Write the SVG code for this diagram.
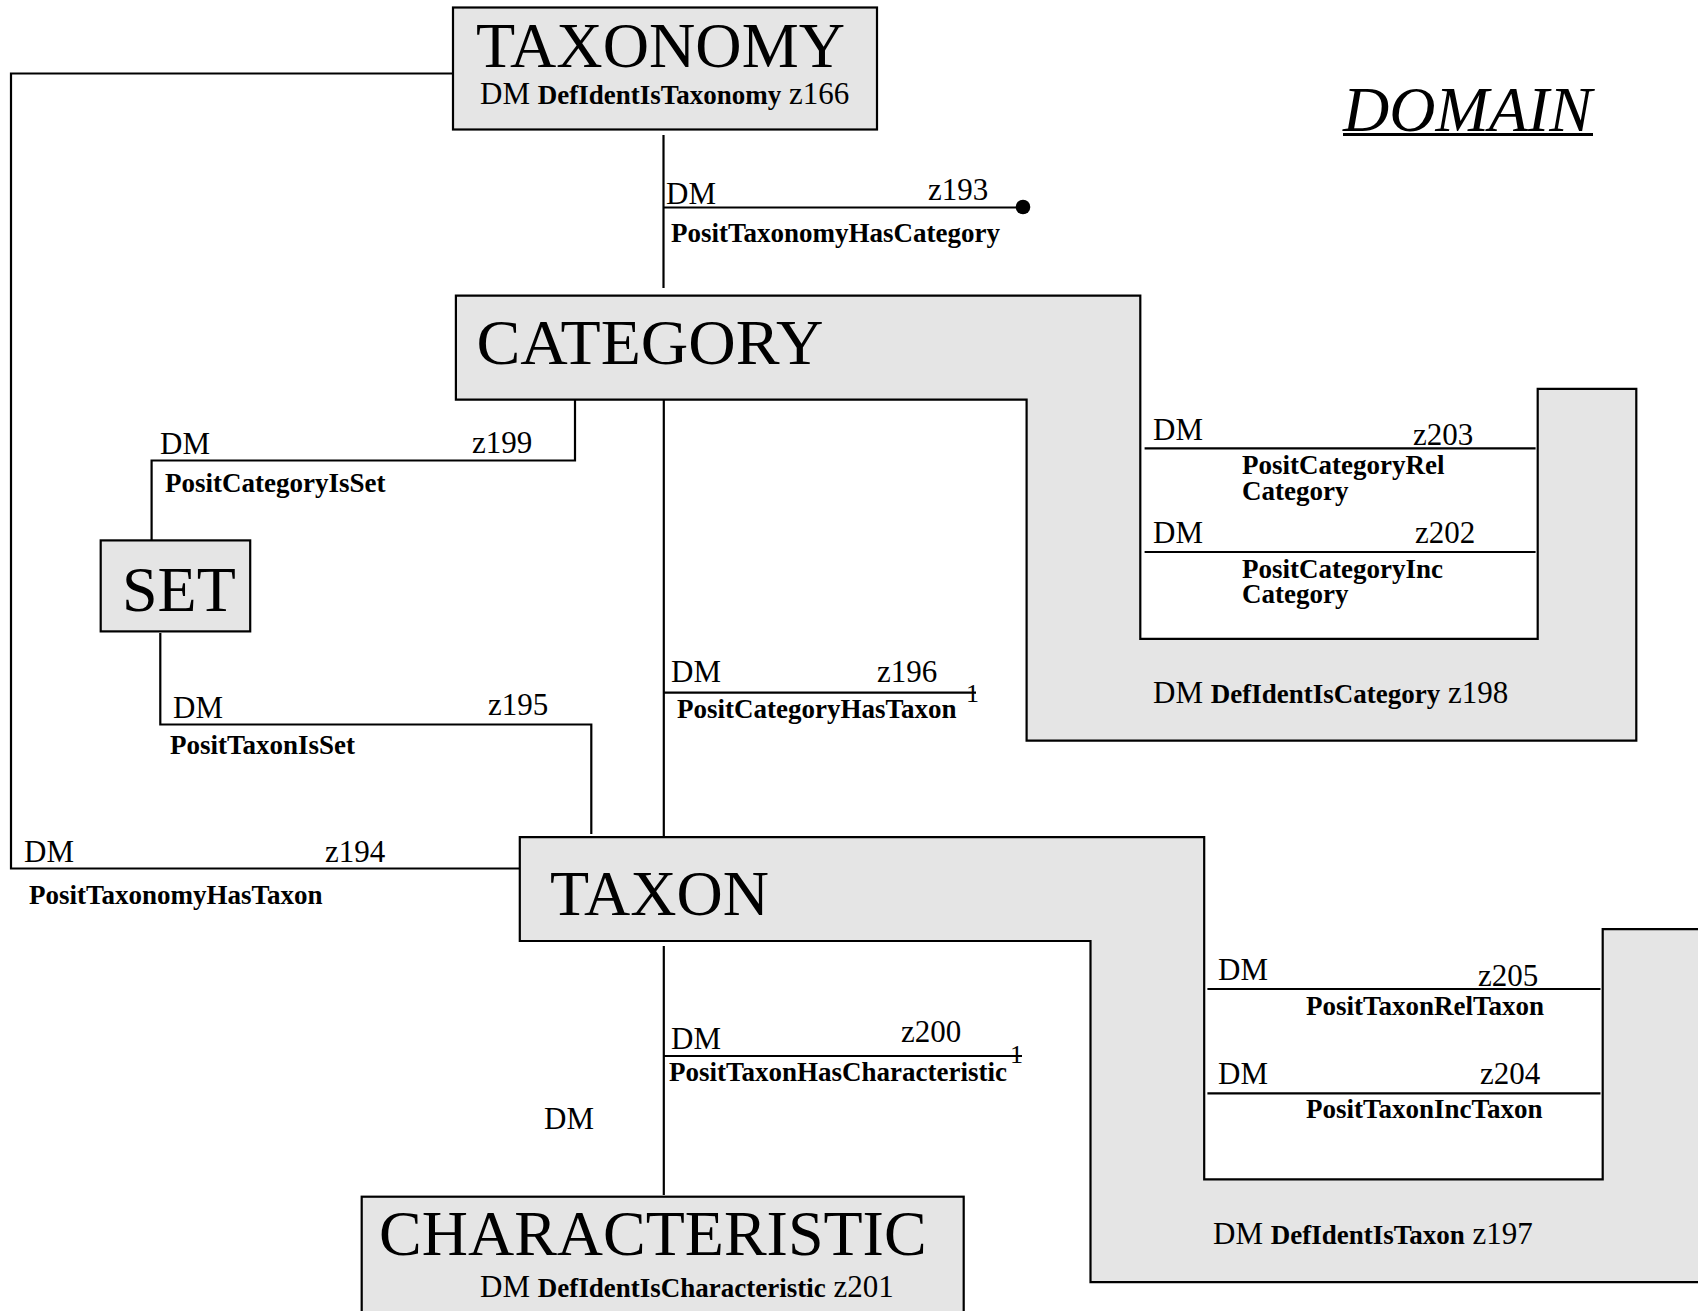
<svg xmlns="http://www.w3.org/2000/svg" width="1698" height="1311" viewBox="0 0 1698 1311">
<style>
text{font-family:"Liberation Serif","Times New Roman",serif;fill:#000}
.t{font-size:64px}
.r{font-size:31px}
.b{font-size:27px;font-weight:bold}
.box{fill:#e5e5e5;stroke:#000;stroke-width:2.2}
.ln{fill:none;stroke:#000;stroke-width:2.2}
</style>
<rect x="0" y="0" width="1698" height="1311" fill="#fff"/>
<g id="domain-title">
<text x="1343" y="131" font-size="64" font-style="italic">DOMAIN</text>
<line x1="1343" y1="134.5" x2="1593" y2="134.5" stroke="#000" stroke-width="3"/>
</g>
<g id="connectors">
<path class="ln" d="M453,73.5 H11 V868.5 H520"/>
<text class="r" x="24" y="862">DM</text>
<text class="r" x="325" y="862">z194</text>
<text class="b" x="29" y="904">PositTaxonomyHasTaxon</text>
<path class="ln" d="M663.5,135 V288"/>
<path class="ln" d="M663.5,207.5 H1023"/>
<circle cx="1023" cy="207" r="7.3" fill="#000"/>
<text class="r" x="666" y="204">DM</text>
<text class="r" x="928" y="200">z193</text>
<text class="b" x="671" y="242">PositTaxonomyHasCategory</text>
<path class="ln" d="M575,399.6 V460.5 H151.6 V540.4"/>
<text class="r" x="160" y="454">DM</text>
<text class="r" x="472" y="453">z199</text>
<text class="b" x="165" y="492">PositCategoryIsSet</text>
<path class="ln" d="M160.3,633 V724.5 H591.3 V834"/>
<text class="r" x="173" y="718">DM</text>
<text class="r" x="488" y="715">z195</text>
<text class="b" x="170" y="754">PositTaxonIsSet</text>
<path class="ln" d="M663.8,399.6 V839"/>
<path class="ln" d="M663.8,692.7 H976"/>
<text class="r" x="671" y="682">DM</text>
<text class="r" x="877" y="682">z196</text>
<text class="b" x="677" y="718">PositCategoryHasTaxon</text>
<text x="966" y="702" font-size="26">1</text>
<path class="ln" d="M663.8,946 V1195"/>
<path class="ln" d="M663.8,1056 H1022"/>
<text class="r" x="671" y="1049">DM</text>
<text class="r" x="901" y="1042">z200</text>
<text class="b" x="669" y="1081">PositTaxonHasCharacteristic</text>
<text x="1010" y="1063" font-size="26">1</text>
<text class="r" x="544" y="1129">DM</text>
<path class="ln" d="M1144.6,448.3 H1535.6"/>
<text class="r" x="1153" y="440">DM</text>
<text class="r" x="1413" y="445">z203</text>
<text class="b" x="1242" y="474">PositCategoryRel</text>
<text class="b" x="1242" y="500">Category</text>
<path class="ln" d="M1144.6,552 H1535.6"/>
<text class="r" x="1153" y="543">DM</text>
<text class="r" x="1415" y="543">z202</text>
<text class="b" x="1242" y="578">PositCategoryInc</text>
<text class="b" x="1242" y="603">Category</text>
<path class="ln" d="M1207.4,989 H1600.5"/>
<text class="r" x="1218" y="980">DM</text>
<text class="r" x="1478" y="986">z205</text>
<text class="b" x="1306" y="1015">PositTaxonRelTaxon</text>
<path class="ln" d="M1207.4,1093.3 H1600.5"/>
<text class="r" x="1218" y="1084">DM</text>
<text class="r" x="1480" y="1084">z204</text>
<text class="b" x="1306" y="1118">PositTaxonIncTaxon</text>
</g>
<g id="taxonomy">
<rect class="box" x="453" y="7.5" width="424" height="122"/>
<text class="t" x="476" y="67" textLength="369" lengthAdjust="spacingAndGlyphs">TAXONOMY</text>
<text x="480" y="104"><tspan class="r">DM </tspan><tspan class="b">DefIdentIsTaxonomy</tspan><tspan class="r"> z166</tspan></text>
</g>
<g id="category">
<path class="box" d="M455.9,295.6 H1140.3 V638.9 H1537.7 V388.8 H1636.3 V740.7 H1026.6 V399.6 H455.9 Z"/>
<text class="t" x="476.5" y="364" textLength="347" lengthAdjust="spacingAndGlyphs">CATEGORY</text>
<text x="1153" y="703"><tspan class="r">DM </tspan><tspan class="b">DefIdentIsCategory</tspan><tspan class="r"> z198</tspan></text>
</g>
<g id="set">
<rect class="box" x="100.7" y="540.4" width="149.5" height="91"/>
<text class="t" x="122" y="611">SET</text>
</g>
<g id="taxon">
<path class="box" d="M519.8,837.1 H1204.2 V1179.3 H1602.7 V929.1 H1710 V1282.2 H1090.5 V941 H519.8 Z"/>
<text class="t" x="550" y="915">TAXON</text>
<text x="1213" y="1244"><tspan class="r">DM </tspan><tspan class="b">DefIdentIsTaxon</tspan><tspan class="r"> z197</tspan></text>
</g>
<g id="characteristic">
<rect class="box" x="361.7" y="1196.7" width="602" height="130"/>
<text class="t" x="379" y="1255">CHARACTERISTIC</text>
<text x="480" y="1297"><tspan class="r">DM </tspan><tspan class="b">DefIdentIsCharacteristic</tspan><tspan class="r"> z201</tspan></text>
</g>
</svg>
